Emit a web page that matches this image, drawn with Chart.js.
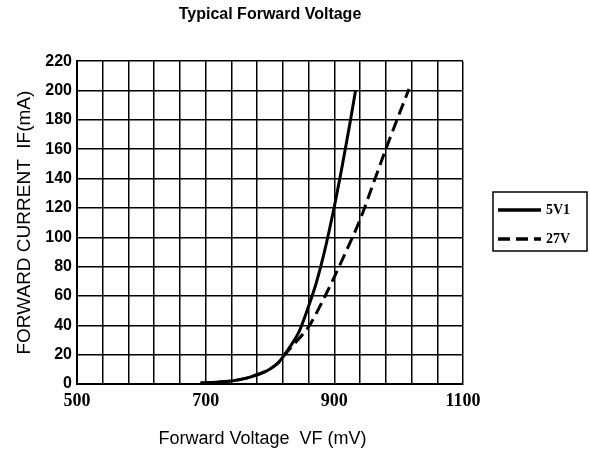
<!DOCTYPE html>
<html>
<head>
<meta charset="utf-8">
<title>Typical Forward Voltage</title>
<script src="https://cdn.jsdelivr.net/npm/chart.js@4.4.1/dist/chart.umd.min.js"></script>
<style>
    html, body { margin: 0; padding: 0; background: #fff; }
    #wrap { width: 590px; height: 452px; position: relative; }
</style>
</head>
<body>
<div id="wrap"><canvas id="chart"></canvas></div>
<script>
// values (mV, mA)
const seriesNames = ["5V1", "27V"];
const voltage5V1 = [692, 720, 744, 765, 780, 795, 806, 814, 821, 832, 845, 860, 872, 884, 900, 912, 924, 933];
const current5V1 = [0.7, 1.3, 2.3, 4.2, 6.3, 9, 12, 15, 19, 26, 35.5, 53, 69, 89, 121, 148, 177, 200];
const voltage27V = [692, 720, 744, 765, 780, 795, 806, 814, 821, 840, 860, 880, 900, 920, 940, 960, 980, 1000, 1016];
const current27V = [0.7, 1.3, 2.3, 4.2, 6.3, 9, 12, 15, 19, 28.5, 39, 55, 73, 92, 112, 136, 160, 183, 201];
const xTickLabels = [500, 700, 900, 1100];

function toPoints(xs, ys) {
    return xs.map((x, i) => ({ x: x, y: ys[i] }));
}

// box legend on the right, drawn from the datasets
const boxLegend = {
    id: "boxLegend",
    afterDraw(chart) {
        const ctx = chart.ctx;
        const x0 = 493, y0 = 192, w = 94, h = 59;
        ctx.save();
        ctx.strokeStyle = "#000";
        ctx.lineWidth = 1.5;
        ctx.strokeRect(x0, y0, w, h);
        chart.data.datasets.forEach((ds, i) => {
            const y = y0 + 18 + i * 29;
            ctx.beginPath();
            ctx.setLineDash(ds.borderDash || []);
            ctx.lineWidth = 3.5;
            ctx.moveTo(x0 + 5, y);
            ctx.lineTo(x0 + 48, y);
            ctx.stroke();
            ctx.setLineDash([]);
            ctx.fillStyle = "#000";
            ctx.font = "bold 14px 'Liberation Serif', 'Times New Roman', serif";
            ctx.textBaseline = "middle";
            ctx.fillText(ds.label, x0 + 53, y);
        });
        ctx.restore();
    }
};

const ctx = document.getElementById("chart").getContext("2d");
new Chart(ctx, {
    type: "line",
    data: {
        datasets: [
            {
                label: seriesNames[0],
                data: toPoints(voltage5V1, current5V1),
                borderColor: "#000",
                borderWidth: 3,
                pointRadius: 0,
                cubicInterpolationMode: "monotone",
                fill: false
            },
            {
                label: seriesNames[1],
                data: toPoints(voltage27V, current27V),
                borderColor: "#000",
                borderWidth: 3,
                borderDash: [12, 6],
                pointRadius: 0,
                cubicInterpolationMode: "monotone",
                fill: false
            }
        ]
    },
    options: {
        responsive: true,
        maintainAspectRatio: false,
        animation: false,
        layout: { padding: { left: 0, right: 127, top: 0, bottom: 0 } },
        plugins: {
            legend: { display: false },
            tooltip: { enabled: false },
            title: {
                display: true,
                fullSize: false,
                text: "Typical Forward Voltage",
                color: "#000",
                font: { family: "Arial, 'Liberation Sans', sans-serif", size: 16, weight: "bold" },
                padding: { top: 5, bottom: 37 }
            }
        },
        scales: {
            x: {
                type: "linear",
                min: 500,
                max: 1100,
                afterFit: (scale) => { scale.height = 68; },
                ticks: {
                    stepSize: 40,
                    autoSkip: false,
                    maxRotation: 0,
                    padding: 7,
                    color: "#000",
                    font: { family: "'Liberation Serif', 'Times New Roman', serif", size: 18, weight: "bold" },
                    callback: (v) => xTickLabels.includes(v) ? String(v) : ""
                },
                grid: { color: "#000", lineWidth: 1.5, drawTicks: false },
                border: { color: "#000", width: 2 },
                title: {
                    display: true,
                    text: "Forward Voltage  VF (mV)   ",
                    color: "#000",
                    font: { family: "Arial, 'Liberation Sans', sans-serif", size: 18 },
                    padding: { top: 0, bottom: 2 }
                }
            },
            y: {
                min: 0,
                max: 220,
                afterFit: (scale) => { scale.width = 77; },
                ticks: {
                    stepSize: 20,
                    padding: 5,
                    color: "#000",
                    font: { family: "Arial, 'Liberation Sans', sans-serif", size: 16, weight: "bold" }
                },
                grid: { color: "#000", lineWidth: 1.5, drawTicks: false },
                border: { color: "#000", width: 2 },
                title: {
                    display: true,
                    text: "FORWARD CURRENT  IF(mA)",
                    color: "#000",
                    font: { family: "Arial, 'Liberation Sans', sans-serif", size: 19 },
                    padding: { top: 13, bottom: 0 }
                }
            }
        }
    },
    plugins: [boxLegend]
});
</script>
</body>
</html>
